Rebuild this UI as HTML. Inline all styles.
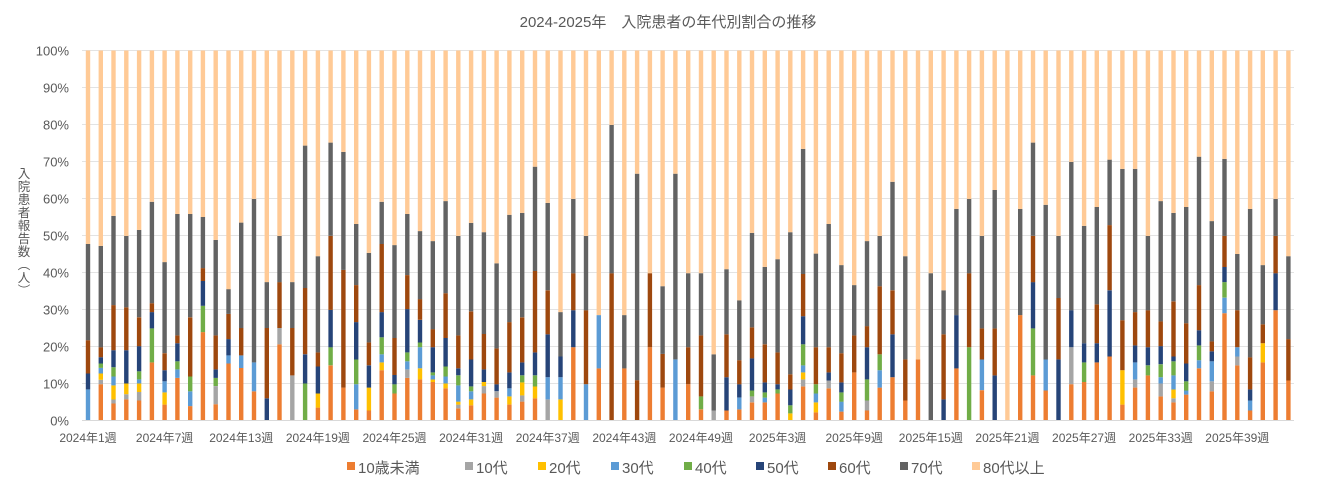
<!DOCTYPE html>
<html><head><meta charset="utf-8"><style>
body{margin:0;background:#fff;}
svg{display:block;font-family:"Liberation Sans","Noto Sans CJK JP",sans-serif;}
</style></head><body>
<svg id="c" width="1336" height="489" xmlns="http://www.w3.org/2000/svg">
<rect width="1336" height="489" fill="#fff"/>
<text x="668" y="27" text-anchor="middle" font-size="15" fill="#595959">2024-2025年　入院患者の年代別割合の推移</text>
<g font-size="12.5" fill="#595959" text-anchor="middle">
<text x="24" y="178">入</text><text x="24" y="191">院</text><text x="24" y="204">患</text><text x="24" y="217">者</text><text x="24" y="230">報</text><text x="24" y="243">告</text><text x="24" y="256">数</text><text x="24" y="269">︵</text><text x="24" y="282">人</text><text x="24" y="295">︶</text>
</g>
<g id="g"></g>
</svg>
<script>
var C=["#ED7D31","#A5A5A5","#FFC000","#5B9BD5","#70AD47","#264478","#9E480E","#636363","#FFCA96"];
var D=[
[3,8.4,5,12.7,6,21.7,7,47.7],
[0,9.8,1,11,2,12.7,3,14.2,4,15.4,5,17.1,6,19.8,7,47.2],
[0,4.6,1,5.7,2,9.5,3,11.9,4,14.4,5,19,6,31.2,7,55.3],
[0,5.7,1,7.1,2,10,5,19,6,30.6,7,49.9],
[0,5.4,1,7.7,2,10,3,11.1,4,13.3,5,20.1,6,27.9,7,51.5],
[0,15.7,4,24.9,5,29.3,6,31.7,7,59.1],
[0,4.3,2,7.6,3,10.6,5,13.6,6,18.2,7,42.8],
[0,11.5,3,13.8,4,16,5,20.9,6,23,7,55.8],
[0,3.9,3,7.9,4,11.9,6,27.9,7,55.8],
[0,23.9,4,31,5,37.7,6,41.2,7,55],
[0,4.4,1,9.3,4,11.5,5,13.8,6,23,7,48.8],
[0,15.4,3,17.6,5,22,6,28.8,7,35.5],
[0,14.2,3,17.6,6,25,7,53.5],
[0,7.9,3,15.7,7,59.9],
[5,6,6,25,7,37.4],
[0,20.6,1,25,6,37.4,7,49.9],
[1,12.2,6,25,7,37.4],
[4,10,5,17.9,6,35.8,7,74.3],
[0,3.5,2,7.3,5,14.6,6,18.4,7,44.4],
[0,14.9,4,19.8,5,29.9,6,49.9,7,75.1],
[0,8.9,6,40.7,7,72.6],
[0,3,3,9.8,4,16.5,5,26.6,6,36.6,7,53.1],
[0,2.7,2,8.9,5,14.9,6,21.1,7,45.3],
[0,13.6,2,15.7,3,17.9,4,22.5,5,29.3,6,47.7,7,59.1],
[0,7.3,4,9.8,5,12.3,6,22.3,7,47.4],
[0,11.5,1,13.8,3,16,4,18.4,5,30.1,6,39.3,7,55.8],
[0,11.1,2,14.1,3,19.8,4,21.1,5,27.2,6,32.8,7,51.2],
[0,10.4,2,11.1,3,12.2,4,13,5,19.8,6,24.7,7,48.5],
[0,8.7,2,10,3,11.9,4,14.6,5,22.3,6,34.4,7,59.3],
[0,3.3,1,4.3,2,5.1,3,9.5,4,12.2,5,14.1,6,23,7,49.9],
[0,4.1,2,5.7,3,7.9,4,9.2,5,16.5,6,29.5,7,53.4],
[0,7.3,1,9.3,2,10.4,5,13.8,6,23.4,7,50.9],
[0,6.2,1,7.9,5,9.8,6,19.5,7,42.5],
[0,4.3,2,6.5,3,8.7,5,13,6,26.6,7,55.6],
[0,5.1,1,6.8,2,10.3,4,12.2,5,15.7,6,27.9,7,56.1],
[0,6,2,9.2,4,12.2,5,18.4,6,40.4,7,68.6],
[1,5.7,3,11.7,5,23.3,6,35.2,7,58.8],
[2,5.7,3,11.7,5,17.3,7,29.3],
[0,19.8,5,29.8,6,39.8,7,59.9],
[3,9.8,6,29.8,7,49.9],
[0,14.1,3,28.5],
[6,39.8,7,79.9],
[0,14.1,7,28.5],
[6,10.9,7,66.7],
[0,19.8,6,39.8],
[0,8.9,6,18,7,36.3],
[3,16.5,7,66.7],
[0,9.8,6,19.8,7,39.8],
[0,3,4,6.5,6,23,7,39.8],
[1,2.7,7,17.9],
[0,2.7,5,11.7,6,23.3,7,40.9],
[0,3,3,6.2,5,9.8,6,16.3,7,32.5],
[0,4.9,1,6.5,4,8.1,5,16.8,6,25.2,7,50.7],
[0,4.9,3,6.2,4,7.6,5,10.3,6,20.6,7,41.5],
[0,7.3,4,8.4,5,9.8,6,18.4,7,43.6],
[2,1.9,4,4.1,5,8.4,6,12.5,7,50.9],
[0,9.2,1,11.1,2,13,3,14.9,4,20.6,5,28.2,6,39.6,7,73.4],
[0,2.2,2,4.9,3,7.3,4,9.8,6,19.8,7,45.1],
[0,8.7,1,10.8,5,13,6,19.8,7,53.1],
[0,2.4,3,5.1,4,7.6,5,10.3,6,18.2,7,42],
[0,13,6,23,7,36.6],
[0,2.7,1,5.4,4,11.1,5,19.8,6,25.5,7,48.5],
[0,8.9,3,13.6,4,17.9,6,36.3,7,49.9],
[0,11.7,5,23.3,6,35.2,7,64.5],
[0,5.4,6,16.5,7,44.4],
[0,16.5],
[7,39.8],
[5,5.7,6,23.3,7,35.2],
[0,14.1,5,28.5,7,57.2],
[4,19.8,6,39.8,7,59.9],
[0,8.2,3,16.5,6,24.9,7,49.9],
[5,12.2,6,24.9,7,62.3],
[],
[0,28.5,7,57.2],
[0,12.2,4,24.9,5,37.4,6,49.9,7,75.1],
[0,8.1,3,16.5,7,58.3],
[5,16.5,6,33.1,7,49.9],
[0,9.8,1,19.8,5,29.8,7,69.9],
[0,10.4,4,15.7,5,20.9,7,52.6],
[0,15.7,5,20.9,6,31.4,7,57.7],
[0,17.3,5,35.2,6,52.8,7,70.5],
[0,4.3,2,13.6,6,27.1,7,68],
[0,8.9,1,11.1,3,15.7,5,20.3,6,29.3,7,68],
[0,12.2,4,14.9,5,19.8,6,29.8,7,49.9],
[0,6.5,1,10,3,11.7,4,15.2,5,20.1,6,26.8,7,59.3],
[0,4.9,1,6,2,8.4,3,12.2,4,16,5,17.3,6,32.2,7,56.1],
[0,7,3,8.1,4,10.6,5,15.4,6,26.3,7,57.7],
[0,14.1,3,16.3,4,20.3,5,24.4,6,36.6,7,71.3],
[0,7.9,1,10.6,3,16,5,18.7,6,21.4,7,53.9],
[0,29,3,33.2,4,37.4,5,41.5,6,49.9,7,70.7],
[0,14.9,1,17.3,3,19.8,6,29.8,7,45],
[0,2.7,3,5.4,5,8.4,6,17.1,7,57.2],
[0,15.7,2,20.9,6,26,7,42],
[0,29.8,5,39.8,6,49.9,7,59.9],
[0,10.8,6,22,7,44.4]
];
var g=document.getElementById("g"),h="";
var Y0=420.5,H=370;
function y(p){return Y0-p*H/100;}
for(var i=0;i<=10;i++){var yy=y(i*10);
 h+='<line x1="82" x2="1294" y1="'+yy+'" y2="'+yy+'" stroke="#e3e3e3" stroke-width="1"/>';
 h+='<text x="69" y="'+(yy+5)+'" text-anchor="end" font-size="13" fill="#595959">'+(i*10)+'%</text>';}
for(var b=0;b<D.length;b++){var x=88+b*12.77-2.2,prev=0,d=D[b];
 for(var k=0;k<d.length;k+=2){var t=d[k+1];h+='<rect x="'+x.toFixed(1)+'" y="'+y(t).toFixed(1)+'" width="4.4" height="'+((t-prev)*H/100).toFixed(1)+'" fill="'+C[d[k]]+'"/>';prev=t;}
 h+='<rect x="'+x.toFixed(1)+'" y="'+y(100).toFixed(1)+'" width="4.4" height="'+((100-prev)*H/100).toFixed(1)+'" fill="'+C[8]+'"/>';}
h+='<line x1="82" x2="1294" y1="420.5" y2="420.5" stroke="#d9d9d9" stroke-width="1"/>';
var L=["2024年1週","2024年7週","2024年13週","2024年19週","2024年25週","2024年31週","2024年37週","2024年43週","2024年49週","2025年3週","2025年9週","2025年15週","2025年21週","2025年27週","2025年33週","2025年39週"];
for(var j=0;j<L.length;j++){h+='<text x="'+(88+j*6*12.77)+'" y="442" text-anchor="middle" font-size="12" fill="#595959">'+L[j]+'</text>';}
var LG=["10歳未満","10代","20代","30代","40代","50代","60代","70代","80代以上"],LX=[347,465,538,611,684,756,828,900,972];
for(var j=0;j<9;j++){h+='<rect x="'+LX[j]+'" y="462" width="8" height="8" fill="'+C[j]+'"/><text x="'+(LX[j]+11)+'" y="473" font-size="15" fill="#595959">'+LG[j]+'</text>';}
g.innerHTML=h;
</script>
</body></html>
